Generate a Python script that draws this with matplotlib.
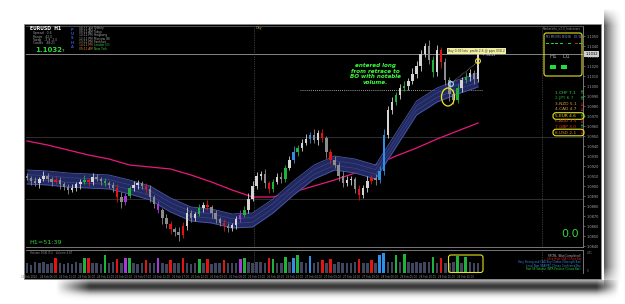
import matplotlib
matplotlib.use("Agg")
import matplotlib.pyplot as plt
import numpy as np
from matplotlib.patches import Rectangle, FancyBboxPatch, Ellipse, Circle

# ---------------- data ----------------
symbol = "EURUSD  H1"
last_price = 1.1032
first_open = 1.0910
close = [1.0908, 1.0905, 1.0903, 1.0907, 1.0910, 1.0907, 1.0904, 1.0906, 1.0902, 1.0899,
         1.0896, 1.0898, 1.0902, 1.0904, 1.0906, 1.0904, 1.0909, 1.0907, 1.0905, 1.0903,
         1.0901, 1.0898, 1.0889, 1.0884, 1.0890, 1.0898, 1.0901, 1.0903, 1.0900, 1.0897,
         1.0889, 1.0882, 1.0876, 1.0868, 1.0862, 1.0857, 1.0854, 1.0851, 1.0860, 1.0873,
         1.0868, 1.0872, 1.0878, 1.0881, 1.0879, 1.0873, 1.0867, 1.0863, 1.0860, 1.0858,
         1.0861, 1.0867, 1.0871, 1.0876, 1.0887, 1.0900, 1.0910, 1.0912, 1.0903, 1.0897,
         1.0904, 1.0909, 1.0907, 1.0918, 1.0926, 1.0934, 1.0938, 1.0943, 1.0947, 1.0951,
         1.0946, 1.0953, 1.0948, 1.0934, 1.0926, 1.0921, 1.0910, 1.0903, 1.0906, 1.0907,
         1.0897, 1.0891, 1.0898, 1.0905, 1.0908, 1.0906, 1.0915, 1.0951, 1.0976, 1.0984,
         1.0991, 1.0998, 1.1000, 1.1005, 1.1012, 1.1020, 1.1032, 1.1040, 1.1026, 1.1014,
         1.1036, 1.1024, 1.1006, 1.0992, 1.0986, 1.0998, 1.1006, 1.1009, 1.1013, 1.1007,
         1.1032]
wick_up_pips = [3, 2, 4, 2, 5, 3, 2, 4, 3, 2,
                3, 4, 2, 3, 5, 2, 4, 3, 2, 3,
                2, 3, 4, 5, 3, 2, 4, 3, 2, 3,
                4, 2, 3, 2, 4, 3, 2, 5, 4, 6,
                3, 2, 4, 3, 5, 2, 3, 2, 4, 3,
                2, 3, 5, 4, 6, 5, 4, 3, 5, 2,
                3, 4, 5, 3, 4, 6, 3, 4, 5, 3,
                6, 3, 4, 2, 3, 4, 3, 5, 4, 3,
                2, 4, 3, 5, 3, 4, 5, 6, 4, 5,
                3, 4, 5, 3, 6, 5, 4, 3, 6, 4,
                5, 3, 4, 3, 5, 4, 3, 5, 4, 3, 6]
wick_dn_pips = [2, 4, 3, 5, 2, 3, 4, 2, 5, 3,
                4, 2, 3, 5, 2, 4, 3, 2, 4, 3,
                3, 4, 5, 6, 3, 2, 3, 4, 3, 4,
                5, 4, 3, 6, 4, 5, 4, 6, 3, 4,
                4, 3, 2, 4, 3, 5, 4, 3, 5, 4,
                3, 4, 3, 2, 3, 2, 3, 4, 5, 4,
                3, 2, 4, 3, 2, 3, 4, 3, 2, 4,
                3, 5, 4, 6, 4, 3, 5, 4, 3, 5,
                4, 5, 3, 4, 3, 5, 3, 4, 3, 4,
                3, 4, 3, 4, 3, 4, 5, 3, 4, 5,
                4, 6, 5, 7, 4, 3, 4, 3, 4, 5, 3]
volume = [1250, 1100, 1400, 1300, 1500, 1200, 1350, 1900, 1250, 1150,
          1300, 1200, 1450, 1350, 2000, 1900, 1250, 1300, 1200, 2300,
          1250, 1400, 1800, 1350, 1900, 2000, 1300, 1200, 1250, 1700,
          1350, 1300, 1900, 1250, 1200, 1750, 1300, 1350, 1900, 1300,
          1150, 1250, 1850, 1300, 1800, 1200, 1350, 1250, 1700, 1300,
          1250, 1300, 1800, 1900, 1450, 1350, 1500, 1400, 1300, 1950,
          1800, 1350, 1250, 2100, 1400, 1950, 2300, 1450, 1350, 2200,
          1300, 1400, 1700, 1350, 1800, 1200, 1450, 1350, 1300, 1250,
          1400, 1800, 1300, 1350, 1750, 1250, 2400, 2600, 1400, 1500,
          2300, 1400, 2500, 1500, 1350, 1450, 1350, 1400, 1500, 2100,
          1350, 2000, 1300, 1250, 1450, 2200, 1300, 2100, 1400, 1250, 1300]
# volume-spread flags (r=red climax, g=green, b=blue, p=purple)
bar_flags = {7: 'r', 14: 'g', 15: 'r', 19: 'g', 22: 'r', 24: 'p', 25: 'g', 29: 'r',
             32: 'p', 35: 'r', 38: 'r', 42: 'g', 44: 'r', 48: 'r', 52: 'p', 53: 'g',
             59: 'r', 60: 'g', 63: 'g', 65: 'b', 66: 'g', 69: 'b', 72: 'r', 74: 'r',
             81: 'r', 84: 'r', 86: 'b', 87: 'b', 90: 'g', 92: 'g', 99: 'g', 101: 'r',
             105: 'g', 107: 'g'}
# moving-average channel (sampled every 5 bars) and slow MA
ma_index = [0, 5, 10, 15, 20, 25, 30, 35, 40, 45, 50, 55, 60, 65, 70, 75, 80, 85, 90, 95, 100, 105, 110]
band_upper = [1.0916, 1.0915, 1.0913, 1.0912, 1.0911, 1.0906, 1.0900, 1.0888, 1.0879, 1.0877, 1.0872, 1.0873,
              1.0887, 1.0905, 1.0921, 1.0930, 1.0927, 1.0921, 1.0953, 1.0985, 1.0998, 1.1006, 1.1013]
band_lower = [1.0902, 1.0901, 1.0899, 1.0898, 1.0897, 1.0892, 1.0886, 1.0874, 1.0865, 1.0863, 1.0858, 1.0859,
              1.0873, 1.0891, 1.0907, 1.0916, 1.0913, 1.0907, 1.0939, 1.0971, 1.0984, 1.0992, 1.0999]
slow_ma = [1.0945, 1.0941, 1.0936, 1.0931, 1.0927, 1.0921, 1.0919, 1.0917, 1.0911, 1.0904, 1.0896, 1.0889,
           1.0889, 1.0894, 1.0900, 1.0906, 1.0913, 1.0921, 1.0930, 1.0938, 1.0947, 1.0955, 1.0963]
time_labels = ["24 Feb 2020", "24 Feb 06:00", "24 Feb 11:00", "24 Feb 16:00", "24 Feb 21:00", "25 Feb 02:00",
               "25 Feb 07:00", "25 Feb 12:00", "25 Feb 17:00", "25 Feb 22:00", "26 Feb 03:00", "26 Feb 08:00",
               "26 Feb 13:00", "26 Feb 18:00", "26 Feb 23:00", "27 Feb 04:00", "27 Feb 09:00", "27 Feb 14:00",
               "27 Feb 19:00", "28 Feb 00:00", "28 Feb 05:00", "28 Feb 10:00", "28 Feb 15:00", "28 Feb 20:00"]
strength_rows = ["1.CHF 7.1", "2.JPY 6.7", "3.NZD 5.1", "4.CAD 4.7", "5.EUR 4.6", "6.AUD 3.5", "7.GBP 3.0", "8.USD 2.1"]
strength_dir = ["up", "up", "down", "down", "up", "down", "up", "down"]
clock_times = ["08:11 AM", "09:11 AM", "10:11 PM", "12:11 PM", "13:11 PM", "14:11 PM", "09:11 AM"]
clock_cities = ["Sydney", "Tokyo", "Hongkong", "Moscow (B)", "Frankfurt", "London (O)", "New York"]
note_text = "entered long\nfrom retrace to\nBO with notable\nvolume."
timer_text = "H1=51:39"

# ---------------- figure ----------------
W, H = 625, 304
fig = plt.figure(figsize=(6.25, 3.04), dpi=100)
fig.patch.set_facecolor("white")


def box(x0, y0, x1, y1):
    return [x0 / W, 1 - y1 / H, (x1 - x0) / W, (y1 - y0) / H]


bg = fig.add_axes([0, 0, 1, 1], zorder=0)
bg.set_xlim(0, W)
bg.set_ylim(H, 0)
bg.axis("off")

# drop shadows (right + bottom)
t = np.linspace(0, 1, 40)
prof = np.clip(1 - t, 0, 1) ** 1.6
yy = np.linspace(0, 1, 200)
vfade = np.clip(np.minimum(yy / 0.06, (1 - yy) / 0.08), 0, 1)
alpha_r = 0.85 * vfade[:, None] * prof[None, :]
rgba = np.zeros((200, 40, 4))
rgba[..., :3] = 0.22
rgba[..., 3] = alpha_r
bg.imshow(rgba, extent=(604, 623, 290, 8), origin="upper", aspect="auto", zorder=1, interpolation="bilinear")

tb = np.linspace(0, 1, 40)
profb = np.exp(-((tb - 0.3) / 0.32) ** 2)
xx = np.linspace(0, 1, 300)
hfade = np.clip(np.minimum(xx / 0.06, (1 - xx) / 0.04), 0, 1)
alpha_b = 0.92 * profb[:, None] * hfade[None, :]
rgbb = np.zeros((40, 300, 4))
rgbb[..., :3] = 0.15
rgbb[..., 3] = alpha_b
bg.imshow(rgbb, extent=(55, 620, 301, 280), origin="upper", aspect="auto", zorder=1, interpolation="bilinear")

bg.add_patch(Rectangle((24, 24), 577, 255, facecolor="black", edgecolor="#8a8a8a", lw=0.6, zorder=2))

# ---------------- main price axes ----------------
n = len(close)
x = np.arange(n)
cl = np.array(close)
op = np.r_[first_open, cl[:-1]]
hi = np.maximum(op, cl) + np.array(wick_up_pips) * 0.0001
lo = np.minimum(op, cl) - np.array(wick_dn_pips) * 0.0001

flag_col = {"r": "#e31414", "g": "#1fb33c", "b": "#2f8fe6", "p": "#a63ad6"}
cols = []
for i in range(n):
    if i in bar_flags:
        cols.append(flag_col[bar_flags[i]])
    else:
        cols.append("#d4d4d4" if cl[i] >= op[i] else "#8c8c8c")

xl = (-0.25, 135.6)
ax = fig.add_axes(box(26, 26, 583, 247), zorder=2)
ax.set_facecolor("black")
ax.set_xlim(*xl)
ax.set_ylim(1.0839, 1.1060)
ax.spines["left"].set_visible(False)
ax.spines["top"].set_color("#5a5a5a")
ax.spines["bottom"].set_color("#8a8a8a")
ax.spines["right"].set_color("#8a8a8a")
for s in ax.spines.values():
    s.set_linewidth(0.6)
ax.set_xticks([])
ax.yaxis.tick_right()
yt = np.arange(1.0840, 1.10501, 0.0010)
ax.set_yticks(yt)
ax.set_yticklabels([f"{v:.4f}" for v in yt])
ax.tick_params(axis="y", labelsize=2.5, colors="#a8a8a8", length=1.5, width=0.4, pad=1.2)

# horizontal / vertical reference lines
ax.axhline(last_price, color="#9a9a9a", lw=0.6, zorder=1)
ax.axhline(1.0949, color="#383838", lw=0.6, zorder=1)
ax.axhline(1.0887, color="#3a3530", lw=0.6, zorder=1)
ax.hlines(1.0996, 66.5, 111, colors="#cfcfcf", linestyles=(0, (1, 1.5)), lw=0.6, zorder=1)
for vx in (55.4, 125.6):
    ax.axvline(vx, color="#6a6a6a", ls=(0, (1, 1.5)), lw=0.5, zorder=1)

# slow MA and channel
ax.plot(ma_index, slow_ma, color="#e8197c", lw=0.9, zorder=3)
ax.fill_between(ma_index, band_lower, band_upper, color="#242c66", alpha=0.95, lw=0, zorder=3)
bu = np.array(band_upper)
bl = np.array(band_lower)
ax.plot(ma_index, bu, color="#4b5aa8", lw=0.6, zorder=3)
ax.plot(ma_index, bl, color="#4b5aa8", lw=0.6, zorder=3)
ax.plot(ma_index, bl + (bu - bl) / 3, color="#39458a", lw=0.5, zorder=3)
ax.plot(ma_index, bl + 2 * (bu - bl) / 3, color="#39458a", lw=0.5, zorder=3)

# candles
ax.vlines(x, lo, hi, colors=cols, lw=0.6, zorder=4)
body = np.maximum(np.abs(cl - op), 0.00012)
ax.bar(x, body, bottom=np.minimum(op, cl), width=0.6, color=cols, lw=0, zorder=5)

# current price tag
ax.text(1.004, last_price, f"{last_price:.4f}", transform=ax.get_yaxis_transform(), fontsize=2.6,
        color="black", va="center", ha="left",
        bbox=dict(boxstyle="square,pad=0.25", fc="#cfcfcf", ec="none"), clip_on=False, zorder=6)

# ---------------- volume axes ----------------
vax = fig.add_axes(box(26, 250, 583, 273), zorder=2)
vax.set_facecolor("black")
vax.set_xlim(*xl)
vax.set_ylim(0, 3000)
vcols = [flag_col[bar_flags[i]] if i in bar_flags else "#41465f" for i in range(n)]
vax.bar(x, volume, width=0.62, color=vcols, lw=0)
vax.spines["left"].set_visible(False)
vax.spines["bottom"].set_visible(False)
vax.spines["top"].set_color("#8a8a8a")
vax.spines["right"].set_color("#8a8a8a")
for s in vax.spines.values():
    s.set_linewidth(0.6)
vax.set_yticks([])
tpos = np.arange(len(time_labels)) * 4.63 + 0.5
vax.set_xticks(tpos)
vax.set_xticklabels(time_labels)
vax.tick_params(axis="x", labelsize=1.9, colors="#8a8a8a", length=0, pad=1.5)
for vx in (55.4, 125.6):
    vax.axvline(vx, color="#6a6a6a", ls=(0, (1, 1.5)), lw=0.5)

# ---------------- overlay text ----------------
ov = fig.add_axes([0, 0, 1, 1], zorder=10)
ov.set_xlim(0, W)
ov.set_ylim(H, 0)
ov.axis("off")
ov.patch.set_alpha(0)

# top-left info
ov.text(30, 29, symbol, fontsize=3.3, color="white", fontweight="bold", va="center")
for k, s in enumerate(["Spread   0.6", "Range   42.0", "Swap   -3.9  2.0", "Candle   48:21"]):
    ov.text(33, 33.3 + 3.4 * k, s, fontsize=2.2, color="#a0a0a0", va="center")
ov.text(35, 50.5, f"{last_price:.4f}", fontsize=5, color="#2fd83a", fontweight="bold", va="center")
ov.text(62, 51, "7", fontsize=3.0, color="#c0c0c0", va="center")
for k, ch in enumerate("PUSHA"):
    ov.text(72, 30 + 4.2 * k, ch, fontsize=2.6, color="#3a55d0", va="center", ha="center", fontweight="bold")
for k, (tm, ct) in enumerate(zip(clock_times, clock_cities)):
    tc = "#a8a8a8" if k < 5 else "#e08a30"
    cc = "#a8a8a8" if k < 5 else "#2fd03a"
    ov.text(79, 28.5 + 3.4 * k, tm, fontsize=2.1, color=tc, va="center")
    ov.text(94, 28.5 + 3.4 * k, ct, fontsize=2.1, color=cc, va="center")
ov.text(256, 28.5, "Day", fontsize=2.3, color="#b0a040", va="center")

# annotation
ov.text(375, 74, note_text, fontsize=4.1, color="#3cff3c", fontweight="bold", fontstyle="italic",
        ha="center", va="center", linespacing=1.15)

# trade markers
ov.add_patch(Ellipse((448, 97), 13, 18, fill=False, ec="#f0e81e", lw=0.9))
ov.add_patch(Circle((451, 84), 2.4, fill=False, ec="#9fdcff", lw=0.8))
ov.add_patch(Circle((478, 61), 2.4, fill=False, ec="#f0e81e", lw=0.8))
ov.plot([453, 476], [82, 63], color="#bfbfbf", lw=0.5, ls=(0, (1, 1.2)))
ov.text(448, 51, "Buy 0.03 lots  profit 2.6 @ pips 058.2", fontsize=2.2, color="#303030", va="center",
        bbox=dict(boxstyle="square,pad=0.3", fc="#f0f0a0", ec="none"))
ov.text(482, 55.5, "+ -38.29", fontsize=2.2, color="#e0e0e0", va="center")

# right-top panel
ov.text(581, 28, "MarketInfo_v3.0_Indicators", fontsize=2.1, color="#8a8a8a", ha="right", va="center")
ov.add_patch(FancyBboxPatch((544, 33), 38, 43, boxstyle="round,pad=0,rounding_size=2.5",
                            fill=False, ec="#e6e21e", lw=0.8))
ov.text(546, 37, "M1 M5 M15 M30", fontsize=1.9, color="#8090d0", va="center")
ov.text(568, 37, "H4", fontsize=1.9, color="#8090d0", va="center")
ov.text(574, 37, "D1 W1", fontsize=1.9, color="#8090d0", va="center")
for xs, c in [(546, "#1fd03a"), (550.5, "#1fd03a"), (555, "#1fd03a"), (559.5, "#1fd03a"),
              (568, "#1fd03a"), (574.5, "#e31414"), (578.5, "#1fd03a")]:
    ov.add_patch(Rectangle((xs, 42.5), 3, 1.3, fc=c, ec="none"))
ov.text(553, 57, "H1", fontsize=4, color="#a8a8a8", ha="center", va="center")
ov.text(566, 57, "D1", fontsize=4, color="#a8a8a8", ha="center", va="center")
ov.add_patch(Rectangle((549.5, 65), 6.5, 4, fc="#1fe03a", ec="none"))
ov.add_patch(Rectangle((560.5, 65), 6.5, 4, fc="#1fe03a", ec="none"))

# currency strength list
row_cols = ["#2fe03a", "#26a830", "#e09a40", "#e09a40", "#e6e21e", "#e05020", "#e03a20", "#e08a20"]
row_y = [93, 98.5, 104, 109.5, 116, 121.5, 127, 132.5]
for s, d, c, yv in zip(strength_rows, strength_dir, row_cols, row_y):
    ov.text(555, yv, s, fontsize=3.1, color=c, va="center")
    ov.text(581, yv, "\u2191" if d == "up" else "\u2193", fontsize=3.4, fontweight="bold",
            color="#20f030" if d == "up" else "#ff2020", ha="center", va="center")
for yv in (116, 132.5):
    ov.add_patch(FancyBboxPatch((553, yv - 3.3), 31, 6.6, boxstyle="round,pad=0,rounding_size=3",
                                fill=False, ec="#e6e21e", lw=0.8))

# lower-left / lower-right texts
ov.text(570, 234, "0.0", fontsize=8, color="#2fd83a", ha="center", va="center")
ov.text(29, 242, timer_text, fontsize=4.6, color="#2fd03a", va="center")
ov.text(30, 253, "Volume 1046 (TL)   Volume 4.87", fontsize=1.9, color="#8a8a8a", va="center")
ov.text(587, 253, "4.71", fontsize=1.9, color="#8a8a8a", va="center")
ov.text(587, 271, "0", fontsize=1.9, color="#8a8a8a", va="center")
vtexts = [("RPCML (Wait Completed)", "#b0b0b0"),
          ("-- Ultra High VSA Climax Bar", "#e02020"),
          ("Very Strong and CAD Buy Climax (Strength Bar)", "#3a8ae0"),
          ("Level Non VSA/PPC Climax Confirmed Bar", "#3a8ae0"),
          ("Fast SE Volume (NPR Positive Climax Bar)", "#2fd03a")]
for k, (s, c) in enumerate(vtexts):
    ov.text(581, 255.5 + 3.5 * k, s, fontsize=1.9, color=c, ha="right", va="center")
ov.add_patch(FancyBboxPatch((448.5, 255), 34.5, 17.5, boxstyle="round,pad=0,rounding_size=2.5",
                            fill=False, ec="#e6e21e", lw=0.8))

fig.savefig("out.png", dpi=100, facecolor="white")
